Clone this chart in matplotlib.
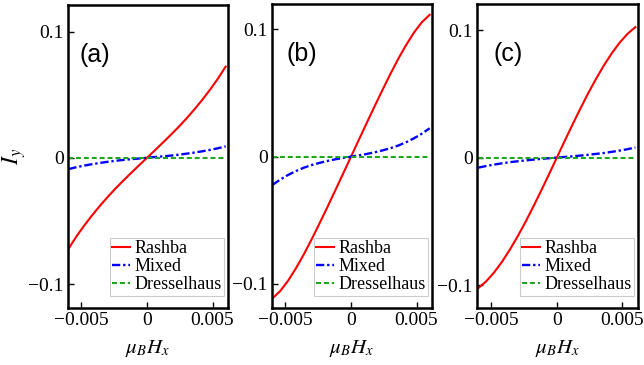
import matplotlib
matplotlib.use('Agg')
import matplotlib.pyplot as plt

plt.rcParams['mathtext.fontset'] = 'stix'
plt.rcParams['font.family'] = ['Liberation Serif', 'DejaVu Serif']

# field values (mu_B H_x)
h = [-0.006, -0.0054, -0.0048, -0.0042, -0.0036, -0.003, -0.0024, -0.0018, -0.0012, -0.0006,
     0.0, 0.0006, 0.0012, 0.0018, 0.0024, 0.003, 0.0036, 0.0042, 0.0048, 0.0054, 0.006]

# panel (a)
rashba_a = [-0.0722, -0.0625, -0.0538, -0.0457, -0.0381, -0.0310, -0.0243, -0.0180, -0.0119, -0.0059, 0.0,
            0.0059, 0.0119, 0.0180, 0.0243, 0.0310, 0.0381, 0.0457, 0.0538, 0.0625, 0.0722]
mixed_a = [-0.0090, -0.0075, -0.0062, -0.0051, -0.0041, -0.0032, -0.0024, -0.0017, -0.0011, -0.0006, 0.0,
           0.0006, 0.0011, 0.0017, 0.0024, 0.0032, 0.0041, 0.0051, 0.0062, 0.0075, 0.0090]
# panel (b)
rashba_b = [-0.1115, -0.1056, -0.0975, -0.0877, -0.0768, -0.0649, -0.0524, -0.0396, -0.0265, -0.0133, 0.0,
            0.0133, 0.0265, 0.0396, 0.0524, 0.0649, 0.0768, 0.0877, 0.0975, 0.1056, 0.1115]
mixed_b = [-0.0223, -0.0180, -0.0144, -0.0113, -0.0087, -0.0066, -0.0049, -0.0034, -0.0021, -0.0010, 0.0,
           0.0010, 0.0021, 0.0034, 0.0049, 0.0066, 0.0087, 0.0113, 0.0144, 0.0180, 0.0223]
# panel (c)
rashba_c = [-0.1024, -0.0971, -0.0902, -0.0819, -0.0724, -0.0619, -0.0506, -0.0385, -0.0260, -0.0131, 0.0,
            0.0131, 0.0260, 0.0385, 0.0506, 0.0619, 0.0724, 0.0819, 0.0902, 0.0971, 0.1024]
mixed_c = [-0.0079, -0.0066, -0.0055, -0.0045, -0.0036, -0.0029, -0.0022, -0.0016, -0.0010, -0.0005, 0.0,
           0.0005, 0.0010, 0.0016, 0.0022, 0.0029, 0.0036, 0.0045, 0.0055, 0.0066, 0.0079]
dressel = [0.0] * len(h)

panels = ['(a)', '(b)', '(c)']
rashba = [rashba_a, rashba_b, rashba_c]
mixed = [mixed_a, mixed_b, mixed_c]

xticks = [-0.005, 0, 0.005]
xticklabels = ['\u22120.005', '0', '0.005']
yticks = [-0.1, 0, 0.1]
yticklabels = ['\u22120.1', '0', '0.1']

fig = plt.figure(figsize=(6.44, 3.65), dpi=100)

W, H = 644.0, 365.0
# axes boxes in pixels: left, right, top, bottom
boxes = [(68, 228, 5, 308), (272, 432, 4, 308), (477, 638, 4, 308)]
xlims = [(-0.00603, 0.00618), (-0.00603, 0.00618), (-0.0061, 0.0062)]
ylims = [(-0.119, 0.121), (-0.119, 0.120), (-0.118, 0.1205)]
label_x = [0.07, 0.09, 0.10]

for i in range(3):
    l, r, t, b = boxes[i]
    ax = fig.add_axes([l / W, (H - b) / H, (r - l) / W, (b - t) / H])
    ax.plot(h, rashba[i], color='#ff0000', lw=1.5, label='Rashba')
    ax.plot(h, mixed[i], color='#0000ff', lw=1.7, dashes=(3.5, 1.2, 1.0, 1.2), label='Mixed')
    ax.plot(h, dressel, color='#1fa81f', lw=1.5, dashes=(2.4, 1.4), label='Dresselhaus')

    ax.set_xlim(xlims[i])
    ax.set_ylim(ylims[i])
    ax.set_xticks(xticks)
    ax.set_xticklabels(xticklabels)
    ax.set_yticks(yticks)
    ax.set_yticklabels(yticklabels)
    ax.tick_params(direction='in', length=4, width=1, labelsize=14, pad=3)
    for sp in ax.spines.values():
        sp.set_linewidth(1.8)

    ax.text(label_x[i], 0.835, panels[i], transform=ax.transAxes, ha='left', va='center',
            fontsize=18, family='Liberation Sans')

    ax.set_xlabel(r'$\mu_B H_x$', fontsize=15)
    ax.xaxis.set_label_coords(0.5, -0.1)
    if i == 0:
        ax.set_ylabel(r'$I_y$', fontsize=17)
        ax.yaxis.set_label_coords(-0.25, 0.5)

    leg = ax.legend(loc='lower right', bbox_to_anchor=(0.975, 0.04), fontsize=13,
                    handlelength=1.0, handletextpad=0.2, labelspacing=0.05,
                    borderpad=0.15, borderaxespad=0.0, fancybox=False, framealpha=1)
    leg.get_frame().set_edgecolor('#cccccc')
    leg.get_frame().set_linewidth(0.8)

fig.savefig('out.png', dpi=100)
